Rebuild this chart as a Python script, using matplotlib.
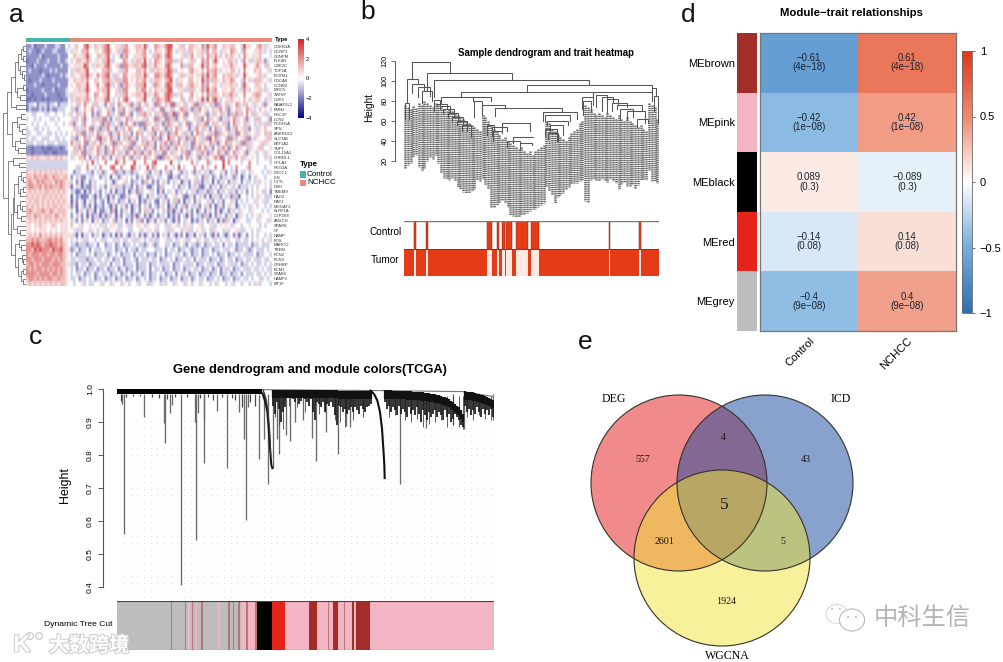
import numpy as np
import matplotlib
matplotlib.use('Agg')
import matplotlib.pyplot as plt
import matplotlib.patheffects as pe
from matplotlib.cm import ScalarMappable
from matplotlib.colors import LinearSegmentedColormap, Normalize
from matplotlib.patches import Circle, Ellipse

plt.rcParams['font.family'] = ['Liberation Sans', 'DejaVu Sans']
plt.rcParams['axes.unicode_minus'] = True

W, H = 1004, 662

# --- panel a: heatmap, one char per sample (0..8 = strongly down .. strongly up)
genes_a = ['CDKN3A', 'GCNP3', 'CENPM', 'PLK4R', 'UBE2C', 'TOP2A', 'FOXM1', 'CDCA8', 'CCNB2', 'BIRC5',
           'ZWINT', 'CDK1', 'BAIAP2L2', 'FMN2', 'DKC1P', 'LCN2', 'PCDH1A', 'SPN', 'ANKRD13', 'SLC7A5',
           'EEF1A2', 'TNFT', 'COL15A1', 'CHRDL1', 'GPLA2', 'REG3A', 'LRCC1', 'LIN', 'CYTL', 'DBH',
           'TMEM9', 'HAO2', 'NAT2', 'MOGAT2', 'KLRF1A', 'CYP2S8', 'ANXCH', 'SPARK', 'CF', 'HAMP',
           'FOS', 'MARCO', 'TREM', 'FCN2', 'FCN3', 'CRHBP', 'ECM1', 'STAB2', 'HAMP2', 'MT1F']
heat_levels = [-2.8, -2.2, -1.7, -0.7, 0.0, 0.6, 1.2, 2.0, 3.0]
heat_rows = [
    '22312223222332243 45644785465 56784455367 44566583447 65578844563 46655473856 74465566443 85544675354',
    '23221232223322234 35546674455 46783456377 54465674346 55468743553 56645563746 64355476543 74445565343',
    '22222312222232224 46555683446 65684345267 44555674436 76478744453 35745564735 75346565434 75455564445',
    '12223222322232234 34665573455 46683344476 43566584347 65467733564 45634473746 85454665343 74335665254',
    '22132223222223225 45555874356 55785456277 55665783557 55478644473 36644583745 64455575544 85445754364',
    '23222122232322224 35665684454 46673445367 44466574335 65568733454 46755464736 75345466434 74446564453',
    '22222232122223234 35456683547 56784335476 45566583447 76578744563 55645573856 74465665354 85444565344',
    '21222322223222225 46556574465 46673566377 45465674356 65467843554 46645483736 65465576443 74356665453',
    '22232212222232224 54665584457 45783346267 54566684437 65478743664 56755473745 64355565343 85445654344',
    '12222232223122234 45565685446 56684456377 44465774346 55568844553 36634573856 74455466453 75345565354',
    '22122223222212235 35555574476 45684435367 45566583557 64578733564 45745464736 65465675344 74456764453',
    '11212212122221224 35665673465 55784346478 54455684436 76578644463 46645583847 85345565454 64355654355',
    '23342333233423334 54364754363 45246347345 62537436452 73465283546 34572635463 27346354765 36453546254',
    '13222323132233344 36254645743 34563246374 53627345535 47254634576 35263745346 53746254635 47353464543',
    '44334443344344345 34635744252 64473346274 62436675346 35726382647 25463546253 64635263736 47463545334',
    '34434344433434444 53646254636 37252463547 36454536452 73527362546 34453624735 46253647354 62543634452',
    '44343443444344345 62543744354 62673346237 45262273546 35267354634 72346357246 35463247354 63543535363',
    '34433434344434444 46353647253 26374525364 73446325473 64523647354 52537463524 73346253745 36245354644',
    '33443344334343434 54637253647 35462537463 52473645362 47352637456 35247364536 27354635274 63545354636',
    '34334433344334344 36254736452 83647352463 73524635473 62548364735 26374536284 73546273645 37253544563',
    '33343334333433334 75364725364 73546273645 37254637352 46375263746 35274635473 62547364537 26354456354',
    '22122212112221234 46375253647 35264735463 72536473562 47362537465 35263747352 46375264735 46354563445',
    '22122221221122224 53647263547 35263746352 64736253746 35274635463 72546375263 47352647354 62545345354',
    '55656555655656554 35463742536 47352463574 62536473546 21736453624 73546253645 73824635746 35454344353',
    '33333333333333334 44445464843 44744483474 44844474478 44444844344 44743444734 44484744443 44744344443',
    '33333333333333334 44364474434 74447844744 48743448473 44474434843 44474474344 74484434744 43744444344',
    '65565656565656554 42334433243 52344623325 32334453243 52436244325 34325343523 44352435243 34354443435',
    '66576667657665664 24352243344 25341452345 43425342634 33442153245 34453426342 34253452341 34243544344',
    '67657676665767655 34251342534 44345134453 42334263425 24352435413 52436325341 42534253542 43343534543',
    '67766757676667655 14351322534 35243563325 32425342134 26344434253 42535213425 34253453425 33434344543',
    '56565656656565654 33124152435 24342413324 13526344534 15243542534 34352335263 42534335243 42434543342',
    '65656566565656554 14231224315 24315243125 34451342534 33524453452 13524352415 35243526314 43434354333',
    '56566565656565654 15243143524 32415342334 25341325342 14352436241 53425344352 43524435243 43443545334',
    '65656565656656555 25143252413 32431524352 41352435243 25341352436 24335243524 13524354134 34354344343',
    '67656676576566654 34153425314 22342614253 41342463524 34352613524 35241342534 25134253435 44354443434',
    '66576656665765654 24352415233 15263415243 32613425134 25341325243 15243326314 25342534135 43434534445',
    '56565656565656554 35242534153 42334625341 52436241352 43524315243 54132534253 41526341354 43344354435',
    '55455655456545554 64453445454 35345543345 33455435445 34433545343 55344534453 34545435443 44544434344',
    '55454555454545554 45335443543 45334453544 33445345543 34453354435 53345435433 54435344553 34434354444',
    '56565756565656555 53141534253 41352415243 15342513425 14352431524 13514352431 52431342513 42434344343',
    '66767666776767554 34345334434 53344353433 45335434353 34453343545 33443543345 34345344334 33434543453',
    '77878767787767654 33233323342 44233423423 34343323432 34433423343 24332342334 33424334233 33423343334',
    '77687877768778655 23423342433 34333423342 43324334443 33424334233 43233423342 33453345233 43234333434',
    '76777677677677654 34233343423 33423434233 34243342332 43423343342 34233423343 42334233434 33334233443',
    '77677767776767654 33433323343 34334233423 34324333433 42334342334 33424333423 34234334233 43343334334',
    '67767677767776655 33243342334 33342433423 33423334233 43333423343 33342334333 42334533342 33434334343',
    '76767767676767654 34233423342 33423342342 33423334243 34233423342 33433423342 34253342334 33343343433',
    '77776777767767654 34334233423 43342334233 42334234233 43423342433 42334233423 34233423342 43334334343',
    '67767676776676654 33423343423 34233423342 33423434233 42334233423 34234334233 43423342334 33434433434',
    '56565656565656654 43445343344 53443544354 34453443354 43534435443 54344354434 35443453443 44343534443',
]
row_len = 94
heat_matrix = np.array([[heat_levels[int(c)] for c in r.replace(' ', '').ljust(row_len, '4')[:row_len]]
                        for r in heat_rows])
n_control_a = 17
# row dendrogram: (height, upper, lower), 0 = leaf
tree_a = (23,
          (19,
           (15, (11, (8, (5, (3, 0, 0), (3, 0, 0)), (6, 0, (4, 0, (2, 0, 0)))), (9, (3, 0, 0), (6, 0, 0))), (10, 0, 0)),
           (14, (9, (5, 0, 0), (7, 0, (4, 0, 0))), (11, (6, 0, 0), (8, 0, 0)))),
          (18,
           (13, 0, (7, 0, 0)),
           (15,
            (13, (12, (8, (5, 0, (3, 0, 0)), (6, (3, 0, 0), 0)), (9, (6, 0, (4, 0, 0)), (5, 0, 0))), (9, 0, (6, 0, 0))),
            (11, (7, 0, (5, 0, 0)), (8, (4, 0, (3, 0, 0)), (5, (3, 0, 0), (3, 0, 0)))))))

# --- panel b: sample dendrogram (positions along the tree, height)
b_left = [185, 230, 252, 530, 334, 272, 172, 165, 185, 205, 215, 252, 262, 270, 280, 295, 305, 320, 335,
          370, 372, 395, 436, 412, 430, 455, 425, 490, 470, 510, 578, 585, 590, 600, 595, 585,
          695, 700, 738, 755, 770, 785, 800, 810, 830, 860, 905, 905, 912]
b_right = [301, 486, 718, 905, 730, 422, 205, 178, 222, 240, 245, 270, 290, 300, 312, 325, 340, 350, 362,
           422, 396, 464, 635, 432, 455, 540, 470, 550, 510, 545, 680, 660, 655, 640, 625, 620,
           730, 722, 770, 790, 805, 830, 875, 850, 885, 895, 918, 730, 925]
b_top = [119, 108, 101, 96, 89, 84, 102, 78, 97, 94, 90, 81, 77, 75, 72, 68, 64, 60, 56,
         84, 80, 76, 73, 56, 50, 58, 54, 44, 40, 38, 69, 66, 60, 56, 48, 52,
         84, 80, 86, 84, 82, 78, 76, 72, 70, 62, 93, 89, 85]
b_drop_l = [102, 90, 84, 89, 84, 78, 78, 62, 88, 84, 78, 70, 75, 72, 68, 64, 60, 56, 50,
            80, 64, 66, 65, 46, 40, 50, 45, 38, 34, 32, 60, 60, 56, 50, 42, 44,
            72, 66, 74, 70, 68, 70, 72, 62, 62, 54, 80, 84, 70]
b_drop_r = [108, 101, 96, 93, 84, 80, 97, 62, 90, 85, 80, 75, 72, 68, 64, 60, 56, 50, 44,
            82, 66, 73, 70, 52, 48, 50, 50, 44, 38, 36, 62, 60, 56, 46, 40, 40,
            76, 70, 82, 78, 76, 74, 70, 64, 58, 58, 85, 84, 58]
# leaf labels: where each leaf column starts and ends
b_leaf_top = [76, 74, 72, 75, 73, 78, 76, 80, 78, 76, 74, 78, 76, 74, 72, 70, 72, 70, 68, 66,
              64, 62, 60, 58, 56, 54, 52, 50, 66, 64, 60, 56, 52, 50, 46, 42, 44, 40, 38, 36,
              34, 32, 34, 30, 28, 30, 26, 30, 32, 34, 36, 60, 58, 52, 50, 46, 44, 42, 40, 44,
              48, 50, 52, 58, 60, 76, 74, 72, 68, 66, 68, 66, 64, 68, 66, 64, 62, 66, 62, 60,
              64, 60, 58, 56, 54, 56, 52, 50, 78, 76, 74, 62]
b_leaf_bottom = [13, 16, 18, 24, 26, 14, 10, 13, 20, 24, 22, 26, 18, 8, 3, 2, 1, 3, 0, -6,
                 -8, -11, -12, -12, -10, -8, 1, 0, 2, -4, -8, -26, -26, -24, -22, -19, -22, -26, -34, -35,
                 -36, -36, -34, -33, -32, -30, -28, -28, -26, -24, -22, -6, -10, -14, -22, -16, -14, -12, -8, -6,
                 -3, -2, -2, 0, 1, -20, -21, 1, 2, 1, 0, 2, 1, -1, 2, 0, -2, -8, -3, -1, -5, -5, -3, -7, -4, 1,
                 1, 1, 11, 0, 0, -2]
b_control_start = [192, 229, 413, 442, 458, 470, 498, 543, 777, 869]
b_control_width = [6, 5, 14, 5, 8, 17, 38, 26, 5, 5]

# --- panel c: gene dendrogram branches (position along the tree, lowest height)
c_spike_x = [365, 371, 431, 492, 496, 510, 517, 543, 585, 587, 594, 613, 613, 650, 681, 718, 733, 738, 745, 776,
             792, 805, 818, 830, 838, 858, 871, 886, 909, 935, 948, 978, 1013, 1037, 1050, 1201, 1277, 1360, 1393, 1480]
c_spike_h = [.956, .562, .914, .896, .837, .926, .951, .405, .900, .542, .928, .776, .906, .934, .761, .931, .850, .602, .946, .789,
             .850, .712, .761, .850, .802, .860, .842, .901, .906, .853, .781, .870, .802, .888, .886, .712, .881, .891, .878, .906]
c_curve1_x = [780, 788, 796, 802, 806, 810, 814, 817]
c_curve1_h = [.995, .985, .96, .93, .88, .82, .77, .76]
c_curve1b_x = [790, 798, 804, 809, 812]
c_curve1b_h = [.995, .97, .93, .87, .80]
c_curve2_x = [1112, 1122, 1132, 1140, 1146, 1150, 1153, 1154]
c_curve2_h = [.995, .985, .965, .93, .88, .82, .77, .73]
c_band_x = [352, 785]
c_band_high = [1.0, 1.0]
c_band_low = [.984, .984]
c_hang_x = [362, 378, 400, 420, 455, 478, 500, 525, 560, 600, 625, 640, 665, 695, 705, 725, 750, 765]
c_hang_h = [.965, .975, .978, .980, .976, .972, .970, .976, .975, .972, .975, .966, .975, .972, .968, .945, .960, .950]
c_link_x = [785, 1160, 1390, 1480]
c_link_h = [.998, .995, .992, .977]
c_mass_low = [.950, .925, .960, .940, .900, .930, .945, .975, .980, .975,
              .970, .960, .975, .955, .965, .975, .970, .960, .950, .970,
              .930, .905, .960, .955, .945, .960, .930, .955, .950, .960,
              .945, .920, .890, .950, .945, .930, .940, .925, .935, .945,
              .930, .945, .935, .925, .950, .940, .930, .945, .950, .955,
              np.nan, np.nan, np.nan, np.nan, np.nan, np.nan, .960, .940, .950, .930,
              .945, .935, .920, .950, .925, .940, .930, .915, .945, .925,
              .935, .920, .945, .925, .900, .935, .920, .905, .930, .915,
              .925, .935, .915, .930, .920, .905, .935, .915, .925, .900,
              .910, .925, .915, .905, .890, .885, .950, .930, .940, .920,
              .935, .925, .945, .930, .915, .940, .925, .935, .920, .940, .915]
c_mass_high = [.998, .998, .998, .998, .998, .998, .998, .998, .998, .998,
               .998, .998, .998, .998, .998, .998, .998, .998, .998, .998,
               .998, .998, .998, .998, .998, .998, .998, .998, .998, .998,
               .998, .998, .998, .995, .995, .995, .995, .995, .995, .995,
               .995, .995, .995, .995, .995, .995, .995, .995, .995, .995,
               np.nan, np.nan, np.nan, np.nan, np.nan, np.nan, .996, .996, .996, .996,
               .995, .995, .995, .995, .994, .994, .994, .993, .993, .993,
               .992, .992, .991, .991, .990, .990, .989, .988, .987, .986,
               .985, .984, .982, .981, .979, .977, .975, .972, .969, .965,
               .960, .955, .950, .945, .935, .925, .993, .992, .992, .991,
               .990, .988, .986, .985, .983, .981, .979, .976, .973, .970, .966]
c_fine_x = [826, 838, 850, 868, 892, 916, 958, 976, 1004, 1020, 1036, 1060, 1090, 1168, 1186, 1214, 1232, 1250, 1268, 1286,
            1304, 1322, 1340, 1358, 1376, 1388, 1402, 1420, 1438, 1456, 1474]
c_fine_h = [.915, .89, .88, .95, .945, .93, .925, .93, .905, .90, .885, .905, .915, .915, .92, .905, .90, .91, .885, .895,
            .90, .905, .885, .89, .885, .88, .915, .905, .92, .91, .905]
# colour band: base stretches first, then the lines and blocks on top
c_color_start = [352, 857, 513, 556, 565, 576, 590, 604, 655, 684, 700, 715, 725, 740, 745, 765, 772, 817, 857, 928, 952, 983, 1000, 1013, 1032, 1035, 1055, 1061, 1068, 1110]
c_color_end = [772, 1110, 516, 560, 572, 580, 592, 610, 660, 692, 704, 722, 740, 745, 765, 772, 817, 857, 928, 952, 983, 986, 1013, 1032, 1035, 1055, 1061, 1068, 1110, 1482]
c_color_name = ['grey', 'pink', 'thin', 'thin', 'pink', 'thin', 'pink', 'thin', 'pink', 'thin', 'thin', 'thin', 'pink', 'thin', 'pink',
                'thin', 'black', 'red', 'pink', 'brown', 'pink', 'thin', 'brown', 'pink', 'thin', 'pink', 'brown', 'pink', 'brown', 'pink']
module_colors = {'grey': '#BDBDBD', 'brown': '#A32D27', 'pink': '#F3B5C4', 'black': '#000000', 'red': '#E5231B', 'thin': '#B5767A'}

# --- panel d: module-trait table
modules = ['MEbrown', 'MEpink', 'MEblack', 'MEred', 'MEgrey']
module_strip = ['brown', 'pink', 'black', 'red', 'grey']
traits = ['Control', 'NCHCC']
corr = np.array([[-0.61, 0.61], [-0.42, 0.42], [0.089, -0.089], [-0.14, 0.14], [-0.40, 0.40]])
corr_text = [['\u22120.61', '0.61'], ['\u22120.42', '0.42'], ['0.089', '\u22120.089'], ['\u22120.14', '0.14'], ['\u22120.4', '0.4']]
pvals = [['4e\u221218', '4e\u221218'], ['1e\u221208', '1e\u221208'], ['0.3', '0.3'], ['0.08', '0.08'], ['9e\u221208', '9e\u221208']]

# --- panel e: venn
venn_names = ['DEG', 'ICD', 'WGCNA']
venn_counts = ['557', '4', '43', '5', '2601', '5', '1924']


def px_axes(x0, y0, x1, y1, **kw):
    return fig.add_axes([x0 / W, 1 - y1 / H, (x1 - x0) / W, (y1 - y0) / H], **kw)


def draw_tree(ax, node, state):
    # walks the nested tuples, leaves are numbered top to bottom
    if node == 0:
        state[0] += 1
        return state[0] - 0.5, 0
    h, a, b = node
    ya, ha = draw_tree(ax, a, state)
    yb, hb = draw_tree(ax, b, state)
    ax.plot([ha, h, h, hb], [ya, ya, yb, yb], color='#555555', lw=0.5, solid_joinstyle='miter')
    return (ya + yb) / 2, h


fig = plt.figure(figsize=(W / 100, H / 100), dpi=100)

# panel a
cmap_a = LinearSegmentedColormap.from_list('navy_fire', ['#000080', '#FFFFFF', '#CD2626'])
ax = px_axes(26, 44, 272, 286)
ax.imshow(heat_matrix, cmap=cmap_a, vmin=-4, vmax=4, aspect='auto', interpolation='hanning')
ax.set_xticks([])
ax.yaxis.tick_right()
ax.set_yticks(range(len(genes_a)), genes_a, fontsize=3, color='#333333')
ax.tick_params(length=0, pad=1.5)
for s in ax.spines.values():
    s.set_visible(False)

ax = px_axes(26, 38, 272, 42)
ax.barh([0], [n_control_a], left=0, height=1, color='#45B5AA')
ax.barh([0], [row_len - n_control_a], left=n_control_a, height=1, color='#E88B7D')
ax.set_xlim(0, row_len)
ax.set_ylim(-0.5, 0.5)
ax.axis('off')

ax = px_axes(2, 44, 26, 286)
draw_tree(ax, tree_a, [0])
ax.set_xlim(24, 0)
ax.set_ylim(len(genes_a), 0)
ax.axis('off')

cax = px_axes(298, 39, 304, 118)
cb = fig.colorbar(ScalarMappable(Normalize(-4, 4), cmap_a), cax=cax)
cb.set_ticks([-4, -2, 0, 2, 4], labels=['\u22124', '\u22122', '0', '2', '4'])
cb.ax.tick_params(labelsize=4, length=0, pad=1.5)
cb.outline.set_visible(False)

# panel b
ax = px_axes(395, 56, 659, 218)
leaf_x = np.linspace(165, 922, len(b_leaf_top))
for x, t, b in zip(leaf_x, b_leaf_top, b_leaf_bottom[:len(b_leaf_top)]):
    ax.plot([x, x], [t, b], color='#666666', lw=1.8, ls=(0, (0.55, 0.3)))
for xl, xr, t, hl, hr in zip(b_left, b_right, b_top, b_drop_l, b_drop_r):
    ax.plot([xl, xl, xr, xr], [hl, t, t, hr], color='#555555', lw=0.75, solid_joinstyle='miter')
ax.set_xlim(135, 927)
ax.set_ylim(-37, 125)
ax.set_xticks([])
ax.set_yticks([20, 40, 60, 80, 100, 120])
ax.tick_params(axis='y', labelsize=5.2, length=3, width=0.6, color='#555555', labelrotation=90, pad=1.5)
for lab in ax.get_yticklabels():
    lab.set_va('center')
for n in ['top', 'right', 'bottom']:
    ax.spines[n].set_visible(False)
ax.spines['left'].set_bounds(20, 120)
ax.spines['left'].set_color('#555555')
ax.spines['left'].set_linewidth(0.7)
ax.patch.set_alpha(0)

ax = px_axes(404, 221, 659, 276)
ax.axhspan(0, 1, color='#E63B17', lw=0)
b_spans = list(zip(b_control_start, b_control_width))
ax.broken_barh(b_spans, (0, 1), facecolor='#FBE9E2', lw=0)
ax.broken_barh(b_spans, (1, 1), facecolor='#E63B17', edgecolor='#8E2A18', lw=0.35)
ax.plot([163, 928], [2, 2], color='#777777', lw=1.0)
ax.plot([163, 928], [1, 1], color='#7A2A1A', lw=0.6)
ax.plot([163, 928], [0, 0], color='#7A2A1A', lw=0.6)
ax.set_xlim(163, 928)
ax.set_ylim(0, 2)
ax.axis('off')

# panel c
ax = px_axes(103, 386, 494, 600)
dots_x, dots_y = np.meshgrid(np.arange(372, 1482, 20), np.arange(0.37, 0.91, 0.0205))
ax.scatter(dots_x.ravel(), dots_y.ravel(), s=0.5, color='#DDDDDD', lw=0, zorder=1)
ax.vlines(c_spike_x, c_band_low[0], c_spike_h, color='#6A6A6A', lw=0.95, zorder=2)
ax.vlines(c_hang_x, c_band_low[0], c_hang_h, color='#444444', lw=0.9, zorder=2)
ax.vlines(c_fine_x, 0.98, c_fine_h, color='#444444', lw=0.6, zorder=2)
ax.plot(c_link_x, c_link_h, color='#777777', lw=0.8, zorder=2)
ax.fill_between(c_band_x, c_band_low, c_band_high, color='black', lw=0, zorder=3)
mass_x = 820 + 6 * np.arange(len(c_mass_low))
ax.vlines(mass_x, c_mass_low, c_mass_high, color='#1A1A1A', lw=1.25, zorder=3)
ax.vlines(mass_x, np.array(c_mass_high) - 0.025, c_mass_high, color='#111111', lw=1.6, zorder=3)
ax.plot(c_curve1_x, c_curve1_h, color='#111111', lw=1.4, zorder=3)
ax.plot(c_curve1b_x, c_curve1b_h, color='#333333', lw=1.0, zorder=3)
ax.plot(c_curve2_x, c_curve2_h, color='#111111', lw=1.5, zorder=3)
ax.set_xlim(309, 1482)
ax.set_ylim(1 - 211 / 330, 1 + 3 / 330)
ax.set_xticks([])
ax.set_yticks([0.4, 0.5, 0.6, 0.7, 0.8, 0.9, 1.0])
ax.tick_params(axis='y', labelsize=6, length=3.5, width=0.7, color='#555555', labelrotation=90, pad=3)
for lab in ax.get_yticklabels():
    lab.set_va('center')
for n in ['top', 'right', 'bottom']:
    ax.spines[n].set_visible(False)
ax.spines['left'].set_bounds(0.4, 1.0)
ax.spines['left'].set_color('#555555')
ax.spines['left'].set_linewidth(0.8)

ax = px_axes(117, 601, 494, 650)
for x0, x1, name in zip(c_color_start, c_color_end, c_color_name):
    ax.axvspan(x0, x1, color=module_colors[name], lw=0)
ax.plot([352, 1482], [1, 1], color='#444444', lw=0.8)
ax.plot([352, 1482], [0, 0], color='#444444', lw=0.8)
ax.set_xlim(352, 1482)
ax.set_ylim(0, 1)
ax.axis('off')

# panel d
cmap_d = LinearSegmentedColormap.from_list('blue_white_red',
                                           [(0, '#2C6EAF'), (0.25, '#75ADDE'), (0.5, '#FFFFFF'), (0.75, '#EE8A6F'), (1, '#E0361A')])
ax = px_axes(760, 33, 956, 331)
ax.pcolormesh(corr, cmap=cmap_d, vmin=-1, vmax=1)
ax.set_ylim(len(modules), 0)
for i in range(len(modules)):
    for j in range(len(traits)):
        ax.text(j + 0.5, i + 0.5, corr_text[i][j] + '\n(' + pvals[i][j] + ')', ha='center', va='center',
                fontsize=6.9, linespacing=0.9, color='#1A2430')
ax.set_yticks([])
ax.set_xticks([0.5, 1.5], traits, fontsize=8, rotation=45, ha='right', rotation_mode='anchor')
ax.tick_params(axis='x', length=0, pad=3.5)
for s in ax.spines.values():
    s.set_color('#777777')
    s.set_linewidth(0.9)

ax = px_axes(737, 33, 757, 331)
for i, name in enumerate(module_strip):
    ax.axhspan(i, i + 1, color=module_colors[name], lw=0)
ax.set_ylim(len(modules), 0)
ax.set_xticks([])
ax.set_yticks(np.arange(len(modules)) + 0.5, modules, fontsize=8)
ax.tick_params(axis='y', length=0, pad=1.5)
for s in ax.spines.values():
    s.set_visible(False)

cax = px_axes(962, 51, 972, 313)
cb = fig.colorbar(ScalarMappable(Normalize(-1, 1), cmap_d), cax=cax)
cb.set_ticks([-1, -0.5, 0, 0.5, 1], labels=['\u22121', '\u22120.5', '0', '0.5', '1'])
cb.ax.tick_params(labelsize=8, length=2.5, width=0.6, color='#555555', pad=3)
cb.outline.set_edgecolor('#666666')
cb.outline.set_linewidth(0.6)

# overlay in figure pixels: panel letters, titles, venn and the watermarks
ov = fig.add_axes([0, 0, 1, 1], zorder=10)
ov.set_xlim(0, W)
ov.set_ylim(H, 0)
ov.axis('off')

for s, x, y in [('a', 16, 15), ('b', 368, 12), ('c', 36, 337), ('d', 688, 15), ('e', 585, 342)]:
    ov.text(x, y, s, fontsize=19, ha='center', va='center', color='#111111')

ov.text(546, 53, 'Sample dendrogram and trait heatmap', fontsize=6.9, fontweight='bold', ha='center', va='center')
ov.text(310, 370, 'Gene dendrogram and module colors(TCGA)', fontsize=9.3, fontweight='bold', ha='center', va='center')
ov.text(852, 13, 'Module\u2212trait relationships', fontsize=8.2, fontweight='bold', ha='center', va='center')
ov.text(369, 108, 'Height', fontsize=7.2, rotation=90, ha='center', va='center')
ov.text(65, 485, 'Height', fontsize=8.9, rotation=90, ha='center', va='center')
ov.text(402, 232, 'Control', fontsize=7.2, ha='right', va='center')
ov.text(399, 260, 'Tumor', fontsize=7.2, ha='right', va='center')
ov.text(113, 625, 'Dynamic Tree Cut', fontsize=6.1, ha='right', va='center')

ov.text(275, 39.5, 'Type', fontsize=4.2, fontweight='bold', va='center')
ov.text(300, 164.5, 'Type', fontsize=5.8, fontweight='bold', va='center')
ov.add_patch(plt.Rectangle((300, 171), 6, 6.5, color='#45B5AA', lw=0))
ov.add_patch(plt.Rectangle((300, 179.5), 6, 6.5, color='#E88B7D', lw=0))
ov.text(307, 174.5, 'Control', fontsize=5.8, va='center')
ov.text(307, 182.8, 'NCHCC', fontsize=5.8, va='center')

venn_xy = [(679, 483), (765, 483), (722, 558)]
venn_fc = [(229 / 255, 23 / 255, 23 / 255, 0.5), (21 / 255, 71 / 255, 157 / 255, 0.5), (239 / 255, 229 / 255, 55 / 255, 0.5)]
for xy, fc in zip(venn_xy, venn_fc):
    ov.add_patch(Circle(xy, 88, facecolor=fc, edgecolor='none'))
for xy in venn_xy:
    ov.add_patch(Circle(xy, 88, facecolor='none', edgecolor='#33312A', lw=0.8))
serif = ['Liberation Serif', 'DejaVu Serif']
for s, x, y in zip(venn_names, [614, 841, 727], [399, 399, 656]):
    ov.text(x, y, s, family=serif, fontsize=8.6, ha='center', va='center')
count_xy = [(643, 460), (723, 437), (806, 460), (724, 505), (665, 542), (783, 542), (726, 602)]
for s, (x, y) in zip(venn_counts, count_xy):
    ov.text(x, y, s, family=serif, fontsize=12.5 if (x, y) == (724, 505) else 7.2, ha='center', va='center', color='#1A1A1A')

cjk = ['Noto Sans CJK SC', 'DejaVu Sans']
ov.text(922, 618, '中科生信', family=cjk, fontsize=17.5, ha='center', va='center', color='#B4B4B4', fontweight='light')
ov.add_patch(Ellipse((837, 614), 22, 19, facecolor='white', edgecolor='#C4C4C4', lw=0.7, ls=(0, (2, 1))))
ov.add_patch(Ellipse((852, 620), 25, 22, facecolor='white', edgecolor='#B8B8B8', lw=0.8))
for x, y in [(832, 609), (840, 609), (848, 617), (856, 617)]:
    ov.add_patch(Circle((x, y), 0.9, color='#B0B0B0', lw=0))

halo = [pe.withStroke(linewidth=1.6, foreground='#CFCFCF')]
ov.text(89, 645, '大数跨境', family=cjk, fontsize=14.5, ha='center', va='center', color='white', path_effects=halo, fontweight='bold')
ov.text(22, 645, 'K', fontsize=17, fontweight='bold', ha='center', va='center', color='white', path_effects=halo)
for x in [30, 39]:
    ov.add_patch(Circle((x, 636), 3.4, facecolor='white', edgecolor='#CFCFCF', lw=1.0))

fig.savefig('out.png', dpi=100)
